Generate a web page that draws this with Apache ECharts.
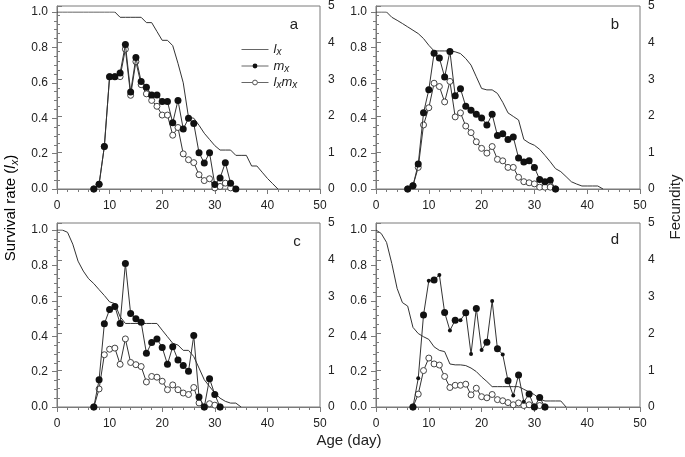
<!DOCTYPE html>
<html><head><meta charset="utf-8">
<script src="https://cdn.jsdelivr.net/npm/echarts@6/dist/echarts.min.js"></script>
<style>html,body{margin:0;padding:0;background:#fff}#c{width:685px;height:457px}</style>
</head><body><div id="c"></div>
<script>
// ---------- data ----------
const xTickLabels = [0, 10, 20, 30, 40, 50];
const leftTickLabels = [0.0, 0.2, 0.4, 0.6, 0.8, 1.0];
const rightTickLabels = [0, 1, 2, 3, 4, 5];
const panelLetters = ['a', 'b', 'c', 'd'];

// panel a
const aLxStart = 0;
const aLx = [1.0,1.0,1.0,1.0,1.0,1.0,1.0,1.0,1.0,1.0,1.0,1.0,0.97,0.97,0.97,0.97,0.97,0.94,0.94,0.89,0.84,0.84,0.81,0.71,0.60,0.405,0.40,0.36,0.315,0.28,0.245,0.22,0.22,0.22,0.19,0.19,0.19,0.13,0.13,0.095,0.06,0.03,0];
const aMxStart = 7;
const aMx = [0,0.13,1.16,3.07,3.07,3.17,3.95,2.65,3.59,2.94,2.78,2.57,2.57,2.39,2.39,1.81,2.42,1.64,1.93,1.79,0.99,0.71,0.99,0.12,0.30,0.72,0.16,0];
const aLxMxStart = 7;
const aLxMx = [0,0.13,1.16,3.07,3.07,3.07,3.82,2.56,3.48,2.85,2.60,2.42,2.26,2.02,2.02,1.47,1.68,0.96,0.80,0.72,0.39,0.23,0.28,0.03,0.07,0.16,0.03];

// panel b
const bLxStart = 0;
const bLx = [1.0,1.0,1.0,0.97,0.953,0.935,0.916,0.897,0.878,0.85,0.812,0.78,0.78,0.78,0.78,0.775,0.765,0.737,0.70,0.634,0.568,0.56,0.56,0.54,0.49,0.43,0.41,0.39,0.28,0.26,0.247,0.224,0.19,0.154,0.115,0.098,0.07,0.041,0.028,0.017,0.017,0.017,0.017,0];
const bMxStart = 6;
const bMx = [0,0.09,0.68,2.08,2.71,3.71,3.58,3.06,3.76,2.55,2.74,2.26,2.15,2.04,1.94,1.75,2.04,1.46,1.51,1.35,1.42,0.85,0.74,0.77,0.59,0.26,0.20,0.24,0];
const bLxMxStart = 6;
const bLxMx = [0,0.09,0.59,1.75,2.22,2.89,2.80,2.38,2.94,1.97,2.08,1.72,1.54,1.29,1.11,0.98,1.16,0.81,0.77,0.59,0.59,0.32,0.20,0.17,0.14,0.05,0.05,0.05,0];

// panel c
const cLxStart = 0;
const cLx = [1.0,1.0,0.987,0.92,0.824,0.768,0.725,0.697,0.663,0.63,0.594,0.584,0.51,0.472,0.472,0.472,0.472,0.472,0.472,0.472,0.434,0.397,0.36,0.35,0.32,0.32,0.285,0.22,0.154,0.116,0.079,0.05,0.032,0.022,0.022,0];
const cMxStart = 7;
const cMx = [0,0.74,2.26,2.65,2.73,2.27,3.90,2.54,2.40,2.30,1.46,1.75,1.85,1.62,1.16,1.64,1.28,1.13,0.97,1.94,0.27,0,0.77,0.34,0];
const cLxMxStart = 7;
const cLxMx = [0,0.49,1.42,1.57,1.60,1.16,1.85,1.21,1.15,1.10,0.68,0.83,0.81,0.70,0.47,0.60,0.47,0.38,0.34,0.53,0.11,0,0.09,0.05,0];

// panel d
const dLxStart = 0;
const dLx = [1.0,0.98,0.93,0.81,0.67,0.59,0.57,0.45,0.415,0.397,0.382,0.34,0.32,0.313,0.243,0.238,0.238,0.234,0.22,0.20,0.17,0.144,0.115,0.115,0.115,0.115,0.115,0.115,0.10,0.085,0.07,0.045,0.034,0.034,0.034,0.034,0];
const dMxStart = 7;
const dMx = [0,0.78,2.50,3.43,3.45,3.59,2.57,2.08,2.36,2.36,2.56,1.44,2.68,1.55,1.76,2.88,1.58,1.43,0.71,0.31,0.87,0.14,0.35,0,0.26,0];
const dLxMxStart = 7;
const dLxMx = [0,0.35,0.99,1.33,1.17,1.14,0.83,0.53,0.59,0.59,0.62,0.33,0.51,0.28,0.25,0.34,0.20,0.17,0.12,0.06,0.11,0.04,0.06,0,0.04,0];

// ---------- build ----------
const panels = [
  {lx:[aLxStart,aLx], mx:[aMxStart,aMx], lm:[aLxMxStart,aLxMx]},
  {lx:[bLxStart,bLx], mx:[bMxStart,bMx], lm:[bLxMxStart,bLxMx]},
  {lx:[cLxStart,cLx], mx:[cMxStart,cMx], lm:[cLxMxStart,cLxMx]},
  {lx:[dLxStart,dLx], mx:[dMxStart,dMx], lm:[dLxMxStart,dLxMx]}
];
const pairs = ([s, arr]) => arr.map((v, i) => [s + i, v]);

const boxes = [
  {left:57, top:5, width:263, height:184},
  {left:376, top:5, width:264, height:184},
  {left:57, top:223, width:263, height:184},
  {left:376, top:223, width:264, height:184}
];
const AX = '#7a7a7a', TXT = '#222', LINE = '#333';
const FONT = 'Liberation Sans, Arial, sans-serif';

const grid = [], xAxis = [], yAxis = [], series = [];
boxes.forEach((b, i) => {
  grid.push({left:b.left, top:b.top, width:b.width, height:b.height, show:true, borderColor:AX, borderWidth:1, backgroundColor:'transparent'});
  grid.push({left:b.left, top:b.top + 7, width:b.width, height:b.height - 7, show:false});
  xAxis.push({gridIndex:2*i, type:'value', min:0, max:50, interval:10,
    axisLine:{show:true, onZero:false, lineStyle:{color:AX, width:1}},
    axisTick:{show:true, inside:false, length:5, lineStyle:{color:AX}},
    minorTick:{show:true, splitNumber:5, length:3, lineStyle:{color:AX}},
    splitLine:{show:false}, minorSplitLine:{show:false},
    axisLabel:{show:true, color:TXT, fontSize:12, fontFamily:FONT, margin:11,
      formatter: v => xTickLabels.includes(v) ? String(v) : ''}});
  xAxis.push({gridIndex:2*i+1, type:'value', min:0, max:50, show:false});
  yAxis.push({gridIndex:2*i, type:'value', position:'right', min:0, max:5, interval:1,
    axisLine:{show:true, lineStyle:{color:AX, width:1}},
    axisTick:{show:true, inside:false, length:5, lineStyle:{color:AX}},
    minorTick:{show:true, splitNumber:4, length:3, lineStyle:{color:AX}},
    splitLine:{show:false},
    axisLabel:{color:TXT, fontSize:12, fontFamily:FONT, margin:8,
      formatter: v => rightTickLabels.includes(v) ? String(v) : ''}});
  yAxis.push({gridIndex:2*i+1, type:'value', position:'left', min:0, max:1, interval:0.2,
    axisLine:{show:true, lineStyle:{color:AX, width:1}},
    axisTick:{show:true, inside:false, length:5, lineStyle:{color:AX}},
    minorTick:{show:true, splitNumber:4, length:3, lineStyle:{color:AX}},
    splitLine:{show:false},
    axisLabel:{color:TXT, fontSize:12, fontFamily:FONT, margin:9,
      formatter: v => v.toFixed(1)}});

  const p = panels[i];
  series.push({name:'lx', type:'line', xAxisIndex:2*i+1, yAxisIndex:2*i+1, data:pairs(p.lx),
    showSymbol:false, symbol:'none', lineStyle:{color:LINE, width:1}, itemStyle:{color:LINE}, z:2, animation:false});
  series.push({name:'lxmx', type:'line', xAxisIndex:2*i, yAxisIndex:2*i, data:pairs(p.lm),
    symbol:'circle', symbolSize:6, lineStyle:{color:LINE, width:1},
    itemStyle:{color:'#fff', borderColor:'#444', borderWidth:1}, z:3, animation:false});
  const isD = i === 3;
  series.push({name:'mx', type:'line', xAxisIndex:2*i, yAxisIndex:2*i, data:pairs(p.mx),
    symbol:'circle',
    symbolSize: isD ? (v => (v[0] >= 8 && v[0] <= 28 && v[0] % 2 === 0) ? 4 : 7) : 7,
    lineStyle:{color:LINE, width:1}, itemStyle:{color:'#111', borderColor:'#111', borderWidth:0}, z:4, animation:false});
});

const rich = {
  i:{fontStyle:'italic', fontSize:13, fontFamily:FONT, color:TXT, verticalAlign:'middle', lineHeight:16},
  s:{fontStyle:'italic', fontSize:10, fontFamily:FONT, color:TXT, verticalAlign:'bottom', lineHeight:16},
  n:{fontSize:15, fontFamily:FONT, color:TXT, verticalAlign:'middle', lineHeight:18},
  ti:{fontStyle:'italic', fontSize:15, fontFamily:FONT, color:TXT, verticalAlign:'middle', lineHeight:18},
  ts:{fontStyle:'italic', fontSize:11, fontFamily:FONT, color:TXT, verticalAlign:'bottom', lineHeight:18}
};
const legendText = {lx:'{i|l}{s|x}', mx:'{i|m}{s|x}', lxmx:'{i|l}{s|x}{i|m}{s|x}'};

const letterPos = [[294,25],[615,25],[297,242],[615,240]];
const graphic = panelLetters.map((t, k) => ({type:'text', x:letterPos[k][0], y:letterPos[k][1],
  style:{text:t, font:'15px ' + FONT, fill:TXT, align:'center', verticalAlign:'middle'}}));
graphic.push({type:'text', x:11, y:208, rotation:Math.PI/2,
  style:{text:'{n|Survival rate (}{ti|l}{ts|x}{n|)}', rich:rich, align:'center', verticalAlign:'middle'}});
graphic.push({type:'text', x:676, y:207, rotation:Math.PI/2,
  style:{text:'Fecundity', font:'15px ' + FONT, fill:TXT, align:'center', verticalAlign:'middle'}});
graphic.push({type:'text', x:349, y:441,
  style:{text:'Age (day)', font:'15px ' + FONT, fill:TXT, align:'center', verticalAlign:'middle'}});

const LEG = '#666';
const chart = echarts.init(document.getElementById('c'), null, {renderer:'canvas'});
chart.setOption({
  animation:false,
  backgroundColor:'#fff',
  grid, xAxis, yAxis, series, graphic,
  legend:{show:true, orient:'vertical', left:236, top:38, itemWidth:27, itemHeight:6, itemGap:2,
    data:[
      {name:'lx', itemStyle:{color:'rgba(0,0,0,0)', borderColor:'rgba(0,0,0,0)', borderWidth:0}, lineStyle:{color:LEG, width:1}},
      {name:'mx', itemStyle:{color:'#111', borderColor:'#111', borderWidth:0}, lineStyle:{color:LEG, width:1}},
      {name:'lxmx', itemStyle:{color:'#fff', borderColor:'#555', borderWidth:1}, lineStyle:{color:LEG, width:1}}
    ], selectedMode:false,
    formatter: n => legendText[n], textStyle:{rich:rich}}
});
</script></body></html>
